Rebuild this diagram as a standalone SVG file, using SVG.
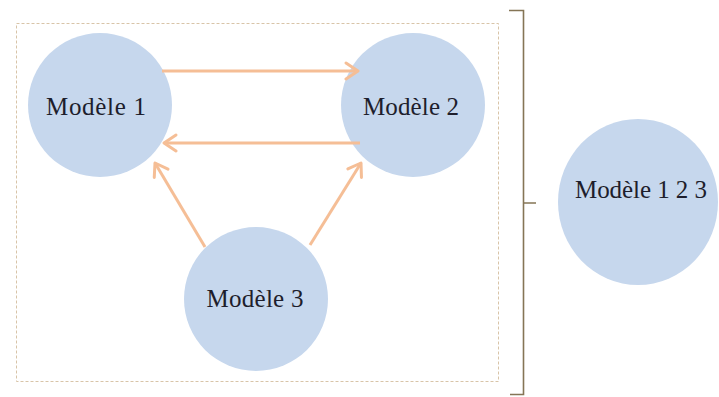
<svg xmlns="http://www.w3.org/2000/svg" width="719" height="397" viewBox="0 0 719 397">
<defs>
<style>
.node circle, .node ellipse { fill: #C6D7ED; }
.label { font-family: "Liberation Serif", "Times New Roman", serif; font-size: 25px; fill: #1E1E2C; text-anchor: middle; }
.conn { stroke: #F5BE96; stroke-width: 3; fill: none; marker-end: url(#arrow); }
</style>
<marker id="arrow" markerUnits="userSpaceOnUse" markerWidth="16" markerHeight="20" viewBox="0 0 16 20" refX="14" refY="10" orient="auto">
<path d="M2,2 L14,10 L2,18" fill="none" stroke="#F5BE96" stroke-width="3" stroke-linejoin="round" stroke-linecap="round"/>
</marker>
</defs>
<rect width="719" height="397" fill="#FFFFFF"/>
<rect id="frame" x="16.5" y="23.5" width="482" height="358" fill="none" stroke="#D8C4A8" stroke-width="1" stroke-dasharray="3 2"/>
<g id="brace">
<path d="M509,10.5 L523.5,10.5 L523.5,394.5 L510,394.5 M523.5,203 L536,203" fill="none" stroke="#857556" stroke-width="1.6"/>
</g>
<g id="n1" class="node">
<circle cx="100" cy="105" r="72"/>
<text class="label" x="96" y="115" textLength="100" lengthAdjust="spacing">Modèle 1</text>
</g>
<g id="n2" class="node">
<circle cx="413" cy="105" r="72"/>
<text class="label" x="411" y="115" textLength="96" lengthAdjust="spacing">Modèle 2</text>
</g>
<g id="n3" class="node">
<circle cx="256" cy="299" r="72"/>
<text class="label" x="255" y="307" textLength="97" lengthAdjust="spacing">Modèle 3</text>
</g>
<g id="n123" class="node">
<ellipse cx="638" cy="202" rx="80" ry="83"/>
<text class="label" x="641" y="198" textLength="132" lengthAdjust="spacing">Modèle 1 2 3</text>
</g>
<g id="connectors">
<line class="conn" x1="162" y1="71" x2="358" y2="71"/>
<line class="conn" x1="360" y1="143" x2="164" y2="143"/>
<line class="conn" x1="205" y1="247" x2="155" y2="163"/>
<line class="conn" x1="310" y1="245" x2="361" y2="163"/>
</g>
</svg>
